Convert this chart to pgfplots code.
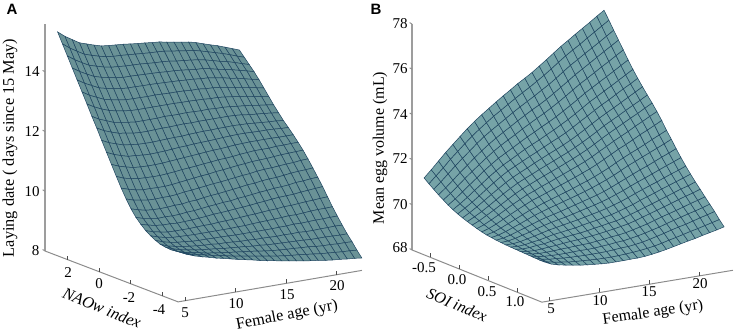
\documentclass[border=0pt]{standalone}
\usepackage{fontspec}
\setmainfont{Liberation Serif}
\newfontfamily\hv{Liberation Sans}
\usepackage{pgfplots}
\pgfplotsset{compat=1.18}
\definecolor{fa}{HTML}{6A9296}
\definecolor{fb}{HTML}{76A3A7}
\definecolor{gl}{HTML}{1F4560}
\definecolor{ax}{HTML}{8C8C8C}
\newcommand{\tl}[3]{\node[font=\fontsize{15}{15}\selectfont] at (#1,{332-#2}) {#3};}
\begin{document}
\begin{tikzpicture}[x=1pt,y=1pt]
\useasboundingbox (0,0) rectangle (737,332);
\begin{axis}[disabledatascaling,hide axis,clip=false,
 anchor=origin,at={(99.17pt,60.3pt)},
 x={(10.1pt,1.73pt)},y={(-15.7pt,6pt)},z={(0pt,29.85pt)},
 xmin=4.3,xmax=22.5,ymin=-5.03,ymax=3.45,zmin=8,zmax=15.6,
 colormap={ca}{color(0)=(fa) color(1)=(fa)}]
\addplot3[surf,shader=faceted,faceted color=gl,line width=0.5pt,mesh/rows=26,mesh/cols=26]
 table[row sep=\\,header=false,z index=0,
  x expr={5+18*(\coordindex-26*floor((\coordindex+0.5)/26))/25},
  y expr={3.1-7.8*floor((\coordindex+0.5)/26)/25}] {
15.37\\15.18\\15.03\\14.88\\14.80\\14.72\\14.65\\14.62\\14.60\\14.58\\14.55\\14.52\\14.50\\14.47\\14.45\\14.40\\14.36\\14.32\\14.28\\14.22\\14.14\\14.06\\13.99\\13.90\\13.81\\13.72\\
15.03\\14.85\\14.70\\14.56\\14.48\\14.41\\14.35\\14.32\\14.31\\14.29\\14.27\\14.25\\14.23\\14.22\\14.20\\14.16\\14.13\\14.09\\14.06\\14.00\\13.93\\13.86\\13.79\\13.71\\13.62\\13.54\\
14.69\\14.52\\14.38\\14.25\\14.18\\14.11\\14.06\\14.04\\14.02\\14.01\\14.00\\13.98\\13.96\\13.95\\13.93\\13.89\\13.87\\13.84\\13.81\\13.76\\13.70\\13.63\\13.58\\13.51\\13.43\\13.36\\
14.35\\14.19\\14.06\\13.94\\13.87\\13.82\\13.77\\13.74\\13.74\\13.73\\13.72\\13.71\\13.70\\13.68\\13.67\\13.65\\13.62\\13.59\\13.58\\13.53\\13.47\\13.42\\13.37\\13.31\\13.25\\13.18\\
14.01\\13.86\\13.74\\13.62\\13.56\\13.51\\13.47\\13.45\\13.45\\13.44\\13.44\\13.43\\13.42\\13.41\\13.40\\13.38\\13.37\\13.34\\13.33\\13.29\\13.25\\13.19\\13.15\\13.09\\13.03\\12.98\\
13.67\\13.52\\13.41\\13.30\\13.24\\13.20\\13.16\\13.15\\13.15\\13.14\\13.15\\13.14\\13.13\\13.13\\13.12\\13.10\\13.10\\13.07\\13.06\\13.03\\12.99\\12.95\\12.91\\12.86\\12.81\\12.76\\
13.33\\13.19\\13.08\\12.99\\12.93\\12.89\\12.86\\12.85\\12.85\\12.85\\12.85\\12.85\\12.85\\12.84\\12.84\\12.83\\12.82\\12.80\\12.80\\12.77\\12.74\\12.70\\12.67\\12.62\\12.58\\12.54\\
12.98\\12.84\\12.75\\12.65\\12.61\\12.57\\12.54\\12.54\\12.54\\12.54\\12.56\\12.55\\12.55\\12.56\\12.55\\12.54\\12.55\\12.53\\12.53\\12.51\\12.48\\12.46\\12.43\\12.39\\12.36\\12.32\\
12.65\\12.52\\12.43\\12.35\\12.31\\12.27\\12.25\\12.25\\12.26\\12.27\\12.27\\12.28\\12.29\\12.28\\12.29\\12.29\\12.29\\12.29\\12.29\\12.28\\12.26\\12.22\\12.20\\12.18\\12.15\\12.12\\
12.30\\12.18\\12.10\\12.02\\11.99\\11.96\\11.95\\11.95\\11.96\\11.97\\11.98\\11.98\\12.00\\12.01\\12.02\\12.02\\12.03\\12.03\\12.04\\12.03\\12.02\\12.00\\11.98\\11.96\\11.95\\11.92\\
11.96\\11.85\\11.77\\11.70\\11.69\\11.66\\11.65\\11.66\\11.67\\11.69\\11.71\\11.72\\11.74\\11.75\\11.76\\11.77\\11.79\\11.80\\11.81\\11.81\\11.80\\11.79\\11.79\\11.78\\11.76\\11.75\\
11.62\\11.52\\11.45\\11.39\\11.37\\11.36\\11.36\\11.37\\11.39\\11.41\\11.43\\11.45\\11.47\\11.49\\11.51\\11.52\\11.54\\11.56\\11.57\\11.58\\11.58\\11.58\\11.58\\11.57\\11.57\\11.57\\
11.28\\11.18\\11.13\\11.08\\11.07\\11.06\\11.06\\11.08\\11.10\\11.13\\11.15\\11.17\\11.20\\11.22\\11.25\\11.26\\11.28\\11.31\\11.33\\11.35\\11.35\\11.35\\11.37\\11.37\\11.38\\11.38\\
10.95\\10.87\\10.81\\10.77\\10.77\\10.76\\10.76\\10.78\\10.81\\10.84\\10.87\\10.90\\10.92\\10.96\\10.98\\11.01\\11.04\\11.06\\11.09\\11.10\\11.11\\11.13\\11.15\\11.16\\11.17\\11.18\\
10.65\\10.57\\10.53\\10.49\\10.48\\10.49\\10.49\\10.51\\10.55\\10.57\\10.60\\10.63\\10.66\\10.68\\10.71\\10.74\\10.77\\10.79\\10.83\\10.85\\10.86\\10.88\\10.90\\10.91\\10.94\\10.95\\
10.38\\10.31\\10.25\\10.23\\10.22\\10.23\\10.25\\10.25\\10.29\\10.30\\10.34\\10.37\\10.39\\10.42\\10.45\\10.48\\10.52\\10.53\\10.57\\10.59\\10.60\\10.63\\10.66\\10.68\\10.69\\10.71\\
10.16\\10.08\\10.04\\10.00\\10.01\\10.00\\10.01\\10.04\\10.05\\10.08\\10.11\\10.13\\10.16\\10.17\\10.21\\10.23\\10.26\\10.29\\10.31\\10.34\\10.35\\10.37\\10.41\\10.42\\10.45\\10.46\\
9.99\\9.92\\9.87\\9.84\\9.84\\9.82\\9.83\\9.84\\9.86\\9.88\\9.91\\9.92\\9.94\\9.96\\9.98\\10.00\\10.03\\10.05\\10.08\\10.10\\10.11\\10.12\\10.15\\10.17\\10.19\\10.21\\
9.84\\9.76\\9.71\\9.67\\9.66\\9.66\\9.66\\9.67\\9.68\\9.68\\9.70\\9.71\\9.72\\9.74\\9.76\\9.77\\9.79\\9.81\\9.82\\9.85\\9.85\\9.87\\9.89\\9.90\\9.92\\9.93\\
9.73\\9.65\\9.59\\9.55\\9.54\\9.53\\9.52\\9.52\\9.52\\9.52\\9.52\\9.52\\9.53\\9.53\\9.55\\9.56\\9.57\\9.58\\9.59\\9.61\\9.60\\9.62\\9.64\\9.65\\9.65\\9.66\\
9.64\\9.55\\9.49\\9.45\\9.43\\9.40\\9.39\\9.39\\9.38\\9.38\\9.37\\9.36\\9.36\\9.36\\9.36\\9.36\\9.36\\9.37\\9.37\\9.39\\9.38\\9.39\\9.40\\9.40\\9.41\\9.41\\
9.57\\9.47\\9.42\\9.37\\9.34\\9.31\\9.29\\9.28\\9.25\\9.25\\9.23\\9.21\\9.21\\9.19\\9.19\\9.18\\9.17\\9.18\\9.17\\9.18\\9.16\\9.16\\9.17\\9.17\\9.18\\9.17\\
9.54\\9.44\\9.37\\9.32\\9.28\\9.24\\9.22\\9.19\\9.16\\9.14\\9.12\\9.10\\9.07\\9.06\\9.03\\9.02\\9.01\\9.00\\8.99\\8.98\\8.96\\8.96\\8.96\\8.95\\8.94\\8.94\\
9.52\\9.42\\9.34\\9.29\\9.25\\9.19\\9.16\\9.12\\9.09\\9.06\\9.03\\9.00\\8.97\\8.93\\8.90\\8.88\\8.86\\8.85\\8.83\\8.82\\8.79\\8.77\\8.77\\8.75\\8.75\\8.74\\
9.54\\9.43\\9.35\\9.29\\9.24\\9.18\\9.14\\9.08\\9.03\\8.99\\8.95\\8.90\\8.86\\8.82\\8.78\\8.75\\8.72\\8.70\\8.67\\8.64\\8.61\\8.59\\8.57\\8.55\\8.54\\8.52\\
9.56\\9.44\\9.35\\9.28\\9.22\\9.15\\9.10\\9.04\\8.98\\8.93\\8.88\\8.82\\8.77\\8.73\\8.68\\8.64\\8.60\\8.56\\8.52\\8.49\\8.45\\8.42\\8.40\\8.37\\8.35\\8.32\\
};
\addplot3[ax!85,line width=1.5pt,no marks] coordinates {(4.3,3.45,15.6)(4.3,3.45,8)};
\addplot3[ax,line width=1pt,no marks] coordinates {(4.3,3.45,8)(4.3,-5.03,8)(22.5,-5.03,8)};
\addplot3[ax,line width=0.9pt,no marks] coordinates {(4.3,3.45,14)(4.3,3.6,14.02)};
\addplot3[ax,line width=0.9pt,no marks] coordinates {(4.3,3.45,12)(4.3,3.6,12.02)};
\addplot3[ax,line width=0.9pt,no marks] coordinates {(4.3,3.45,10)(4.3,3.6,10.02)};
\addplot3[ax,line width=0.9pt,no marks] coordinates {(4.3,3.45,8)(4.3,3.6,8.02)};
\addplot3[black!70,line width=0.9pt,no marks] coordinates {(4.3,2,8)(4.3,2,8.13)};
\addplot3[black!70,line width=0.9pt,no marks] coordinates {(4.3,0,8)(4.3,0,8.13)};
\addplot3[black!70,line width=0.9pt,no marks] coordinates {(4.3,-2,8)(4.3,-2,8.13)};
\addplot3[black!70,line width=0.9pt,no marks] coordinates {(4.3,-4,8)(4.3,-4,8.13)};
\addplot3[black!70,line width=0.9pt,no marks] coordinates {(5,-5.03,8)(5,-5.03,8.13)};
\addplot3[black!70,line width=0.9pt,no marks] coordinates {(10,-5.03,8)(10,-5.03,8.13)};
\addplot3[black!70,line width=0.9pt,no marks] coordinates {(15,-5.03,8)(15,-5.03,8.13)};
\addplot3[black!70,line width=0.9pt,no marks] coordinates {(20,-5.03,8)(20,-5.03,8.13)};
\end{axis}
\begin{axis}[disabledatascaling,hide axis,clip=false,
 anchor=origin,at={(458.98pt,63.13pt)},
 x={(10pt,1.67pt)},y={(58pt,-23.3pt)},z={(0pt,22.6pt)},
 xmin=4.2,xmax=23.3,ymin=-0.81,ymax=1.43,zmin=68,zmax=78,
 colormap={cb}{color(0)=(fb) color(1)=(fb)}]
\addplot3[surf,shader=faceted,faceted color=gl,line width=0.5pt,mesh/rows=26,mesh/cols=26]
 table[row sep=\\,header=false,z index=0,
  x expr={5+18*(\coordindex-26*floor((\coordindex+0.5)/26))/25},
  y expr={-0.74+2.07*floor((\coordindex+0.5)/26)/25}] {
71.20\\71.51\\71.84\\72.17\\72.47\\72.77\\73.06\\73.33\\73.57\\73.80\\74.03\\74.25\\74.46\\74.68\\74.87\\75.07\\75.30\\75.53\\75.77\\76.01\\76.22\\76.44\\76.65\\76.86\\77.08\\77.29\\
71.03\\71.33\\71.63\\71.96\\72.25\\72.54\\72.82\\73.07\\73.31\\73.54\\73.75\\73.96\\74.17\\74.37\\74.56\\74.77\\74.98\\75.21\\75.45\\75.68\\75.89\\76.09\\76.31\\76.52\\76.73\\76.94\\
70.87\\71.15\\71.45\\71.75\\72.03\\72.30\\72.58\\72.83\\73.05\\73.26\\73.47\\73.68\\73.88\\74.07\\74.26\\74.46\\74.66\\74.88\\75.12\\75.35\\75.55\\75.76\\75.96\\76.16\\76.37\\76.58\\
70.71\\70.97\\71.25\\71.54\\71.81\\72.08\\72.34\\72.58\\72.80\\73.00\\73.20\\73.40\\73.59\\73.78\\73.95\\74.14\\74.35\\74.57\\74.79\\75.02\\75.22\\75.42\\75.63\\75.83\\76.03\\76.23\\
70.57\\70.81\\71.08\\71.36\\71.62\\71.87\\72.12\\72.35\\72.56\\72.75\\72.93\\73.13\\73.31\\73.49\\73.66\\73.85\\74.05\\74.26\\74.48\\74.70\\74.89\\75.09\\75.29\\75.48\\75.68\\75.88\\
70.43\\70.65\\70.91\\71.17\\71.42\\71.68\\71.91\\72.13\\72.31\\72.49\\72.68\\72.86\\73.02\\73.20\\73.36\\73.54\\73.74\\73.94\\74.15\\74.37\\74.56\\74.75\\74.94\\75.13\\75.33\\75.52\\
70.31\\70.52\\70.75\\71.00\\71.24\\71.49\\71.71\\71.92\\72.09\\72.27\\72.45\\72.61\\72.76\\72.93\\73.09\\73.27\\73.45\\73.65\\73.86\\74.07\\74.25\\74.44\\74.62\\74.81\\75.00\\75.19\\
70.21\\70.41\\70.62\\70.85\\71.09\\71.32\\71.54\\71.74\\71.90\\72.06\\72.22\\72.37\\72.53\\72.69\\72.84\\73.00\\73.19\\73.39\\73.58\\73.78\\73.97\\74.14\\74.33\\74.52\\74.69\\74.88\\
70.12\\70.30\\70.50\\70.72\\70.94\\71.15\\71.36\\71.54\\71.70\\71.85\\72.01\\72.16\\72.31\\72.45\\72.60\\72.76\\72.94\\73.13\\73.33\\73.52\\73.70\\73.87\\74.05\\74.23\\74.41\\74.59\\
70.04\\70.20\\70.38\\70.58\\70.79\\71.00\\71.19\\71.37\\71.52\\71.66\\71.81\\71.95\\72.09\\72.23\\72.37\\72.53\\72.70\\72.88\\73.07\\73.27\\73.44\\73.61\\73.79\\73.96\\74.13\\74.31\\
69.97\\70.11\\70.29\\70.47\\70.66\\70.85\\71.04\\71.20\\71.34\\71.48\\71.62\\71.75\\71.88\\72.02\\72.16\\72.31\\72.47\\72.65\\72.84\\73.02\\73.19\\73.36\\73.53\\73.69\\73.87\\74.04\\
69.90\\70.02\\70.18\\70.35\\70.53\\70.71\\70.87\\71.03\\71.15\\71.29\\71.41\\71.54\\71.67\\71.80\\71.93\\72.07\\72.23\\72.41\\72.58\\72.76\\72.92\\73.08\\73.26\\73.42\\73.59\\73.75\\
69.84\\69.94\\70.08\\70.24\\70.40\\70.56\\70.71\\70.86\\70.97\\71.09\\71.21\\71.33\\71.45\\71.57\\71.70\\71.83\\71.98\\72.15\\72.32\\72.49\\72.64\\72.80\\72.97\\73.12\\73.28\\73.44\\
69.79\\69.87\\69.99\\70.13\\70.27\\70.42\\70.56\\70.67\\70.79\\70.89\\71.00\\71.10\\71.21\\71.33\\71.44\\71.57\\71.71\\71.86\\72.03\\72.19\\72.34\\72.48\\72.63\\72.79\\72.94\\73.09\\
69.76\\69.82\\69.92\\70.04\\70.16\\70.29\\70.42\\70.53\\70.63\\70.72\\70.82\\70.91\\71.01\\71.11\\71.22\\71.34\\71.47\\71.61\\71.77\\71.93\\72.07\\72.21\\72.35\\72.49\\72.63\\72.78\\
69.73\\69.77\\69.85\\69.96\\70.06\\70.17\\70.28\\70.37\\70.45\\70.53\\70.62\\70.71\\70.80\\70.89\\70.98\\71.09\\71.22\\71.36\\71.50\\71.64\\71.78\\71.90\\72.04\\72.18\\72.31\\72.45\\
69.71\\69.73\\69.79\\69.88\\69.96\\70.06\\70.15\\70.23\\70.30\\70.36\\70.44\\70.52\\70.60\\70.68\\70.77\\70.87\\70.99\\71.11\\71.25\\71.38\\71.50\\71.63\\71.76\\71.89\\72.01\\72.14\\
69.69\\69.69\\69.73\\69.80\\69.87\\69.95\\70.03\\70.09\\70.15\\70.21\\70.27\\70.34\\70.41\\70.48\\70.56\\70.66\\70.76\\70.88\\71.01\\71.13\\71.25\\71.36\\71.49\\71.61\\71.72\\71.85\\
69.68\\69.66\\69.68\\69.74\\69.78\\69.85\\69.92\\69.96\\70.01\\70.05\\70.12\\70.18\\70.23\\70.30\\70.37\\70.46\\70.56\\70.66\\70.79\\70.90\\71.01\\71.13\\71.24\\71.35\\71.46\\71.58\\
69.67\\69.63\\69.64\\69.68\\69.70\\69.76\\69.81\\69.84\\69.88\\69.91\\69.96\\70.02\\70.07\\70.13\\70.18\\70.26\\70.36\\70.46\\70.57\\70.67\\70.78\\70.89\\71.00\\71.11\\71.20\\71.32\\
69.66\\69.61\\69.59\\69.61\\69.64\\69.66\\69.70\\69.73\\69.75\\69.78\\69.82\\69.86\\69.91\\69.96\\70.02\\70.08\\70.17\\70.27\\70.37\\70.47\\70.57\\70.67\\70.78\\70.88\\70.97\\71.08\\
69.65\\69.58\\69.55\\69.55\\69.56\\69.58\\69.59\\69.61\\69.62\\69.63\\69.67\\69.70\\69.75\\69.78\\69.83\\69.90\\69.98\\70.06\\70.16\\70.26\\70.35\\70.44\\70.54\\70.64\\70.73\\70.83\\
69.64\\69.55\\69.51\\69.49\\69.48\\69.48\\69.49\\69.50\\69.49\\69.50\\69.53\\69.55\\69.59\\69.61\\69.66\\69.72\\69.79\\69.87\\69.95\\70.05\\70.14\\70.23\\70.32\\70.40\\70.49\\70.59\\
69.63\\69.52\\69.46\\69.44\\69.41\\69.39\\69.38\\69.37\\69.37\\69.37\\69.38\\69.40\\69.43\\69.44\\69.48\\69.53\\69.60\\69.68\\69.76\\69.85\\69.93\\70.00\\70.09\\70.18\\70.26\\70.35\\
69.62\\69.49\\69.42\\69.37\\69.32\\69.29\\69.27\\69.25\\69.23\\69.22\\69.22\\69.23\\69.25\\69.27\\69.30\\69.34\\69.39\\69.46\\69.54\\69.61\\69.69\\69.77\\69.84\\69.92\\70.00\\70.08\\
69.62\\69.47\\69.38\\69.32\\69.26\\69.21\\69.17\\69.14\\69.11\\69.09\\69.09\\69.09\\69.10\\69.10\\69.12\\69.16\\69.21\\69.27\\69.34\\69.41\\69.48\\69.54\\69.62\\69.69\\69.76\\69.84\\
};
\addplot3[ax!85,line width=1.5pt,no marks] coordinates {(4.2,-0.81,78)(4.2,-0.81,68)};
\addplot3[ax,line width=1pt,no marks] coordinates {(4.2,-0.81,68)(4.2,1.43,68)(23.3,1.43,68)};
\addplot3[ax,line width=0.9pt,no marks] coordinates {(4.2,-0.81,78)(4.2,-0.85,78.02)};
\addplot3[ax,line width=0.9pt,no marks] coordinates {(4.2,-0.81,76)(4.2,-0.85,76.02)};
\addplot3[ax,line width=0.9pt,no marks] coordinates {(4.2,-0.81,74)(4.2,-0.85,74.02)};
\addplot3[ax,line width=0.9pt,no marks] coordinates {(4.2,-0.81,72)(4.2,-0.85,72.02)};
\addplot3[ax,line width=0.9pt,no marks] coordinates {(4.2,-0.81,70)(4.2,-0.85,70.02)};
\addplot3[ax,line width=0.9pt,no marks] coordinates {(4.2,-0.81,68)(4.2,-0.85,68.02)};
\addplot3[black!70,line width=0.9pt,no marks] coordinates {(4.2,-0.5,68)(4.2,-0.5,68.18)};
\addplot3[black!70,line width=0.9pt,no marks] coordinates {(4.2,0,68)(4.2,0,68.18)};
\addplot3[black!70,line width=0.9pt,no marks] coordinates {(4.2,0.5,68)(4.2,0.5,68.18)};
\addplot3[black!70,line width=0.9pt,no marks] coordinates {(4.2,1,68)(4.2,1,68.18)};
\addplot3[black!70,line width=0.9pt,no marks] coordinates {(5,1.43,68)(5,1.43,68.18)};
\addplot3[black!70,line width=0.9pt,no marks] coordinates {(10,1.43,68)(10,1.43,68.18)};
\addplot3[black!70,line width=0.9pt,no marks] coordinates {(15,1.43,68)(15,1.43,68.18)};
\addplot3[black!70,line width=0.9pt,no marks] coordinates {(20,1.43,68)(20,1.43,68.18)};
\end{axis}
\node[font=\hv\bfseries\fontsize{15}{15}\selectfont] at (12,{332-9}) {A};
\node[font=\hv\bfseries\fontsize{15}{15}\selectfont] at (376,{332-9}) {B};
\tl{32}{72}{14}\tl{32}{132}{12}\tl{32}{192}{10}\tl{35.5}{251}{8}
\tl{68}{273}{2}\tl{99}{284}{0}\tl{129}{298}{-2}\tl{159}{310}{-4}
\tl{185}{313}{5}\tl{236}{304}{10}\tl{287}{295}{15}\tl{337}{286}{20}
\node[rotate=90,font=\fontsize{16.3}{16.3}\selectfont] at (10,{332-148}) {Laying date ( days since 15 May)};
\node[rotate=-22,font=\itshape\fontsize{16.3}{16.3}\selectfont] at (102,{332-308}) {NAOw index};
\node[rotate=11,font=\fontsize{16.3}{16.3}\selectfont] at (287,{332-315.5}) {Female age (yr)};
\tl{400}{24}{78}\tl{400}{69}{76}\tl{400}{115}{74}\tl{400}{159}{72}\tl{400}{205}{70}\tl{400}{248}{68}
\tl{424}{268}{-0.5}\tl{457}{280}{0.0}\tl{487}{292}{0.5}\tl{515}{302}{1.0}
\tl{551}{309}{5}\tl{600}{301}{10}\tl{649}{292}{15}\tl{700}{284}{20}
\node[rotate=90,font=\fontsize{16}{16}\selectfont] at (380,{332-148}) {Mean egg volume (mL)};
\node[rotate=-23,font=\itshape\fontsize{16}{16}\selectfont] at (457,{332-305}) {SOI index};
\node[rotate=8.5,font=\fontsize{16}{16}\selectfont] at (653,{332-313}) {Female age (yr)};
\end{tikzpicture}
\end{document}
